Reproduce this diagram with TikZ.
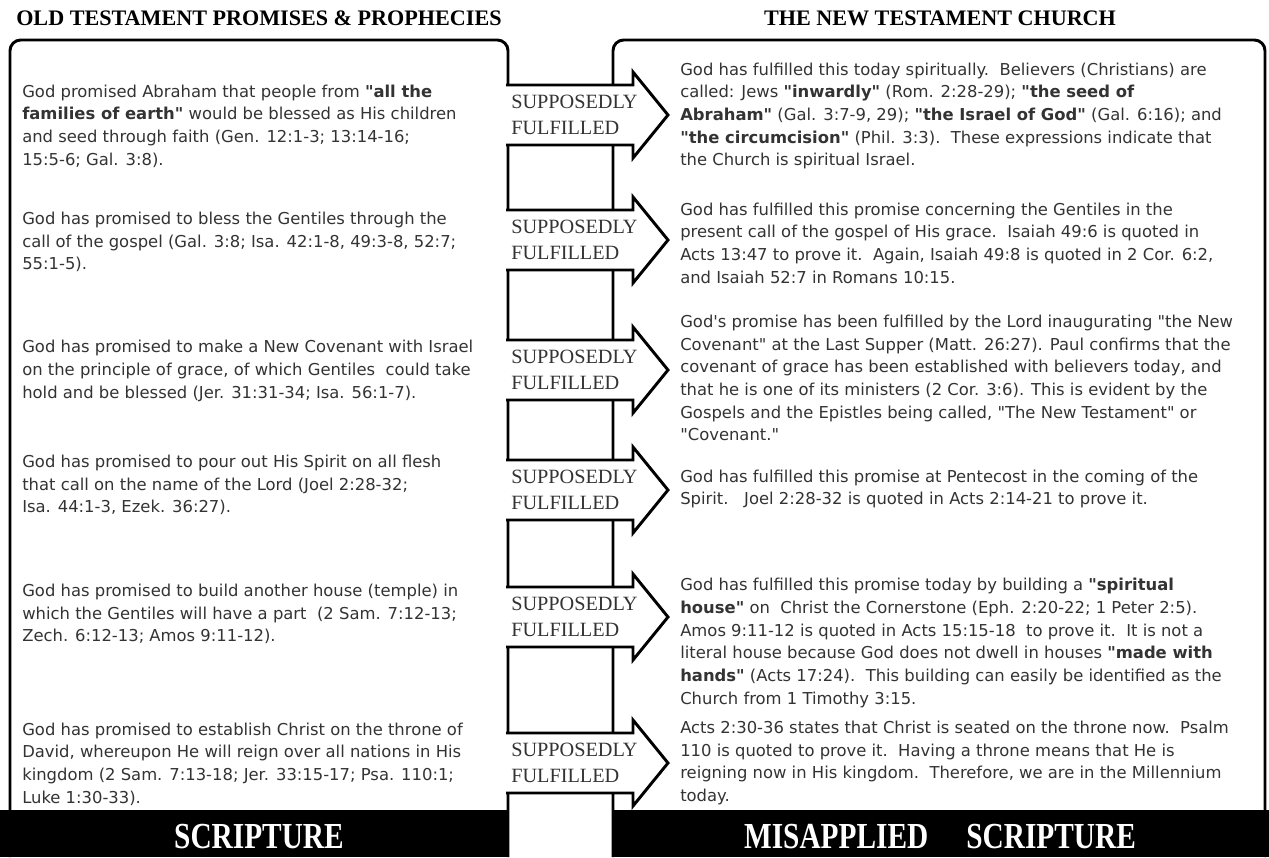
\documentclass[tikz,border=0pt]{standalone}
\usepackage{fontspec}
\setmainfont{Liberation Serif}
\newfontfamily\bodyfont{DejaVu Sans}
\usepackage{tikz}
\usetikzlibrary{calc,positioning}
\definecolor{inkgray}{gray}{0.2}
\tikzset{
  frame/.style={line width=2.2pt,rounded corners=8},
  shaft/.style={line width=2.2pt,fill=white,line join=miter},
  oldtext/.style={anchor=west,align=left,inner sep=0pt,text=inkgray,
    font=\bodyfont\fontsize{12.3}{17}\selectfont},
  newtext/.style={anchor=west,align=left,inner sep=0pt,text=inkgray,
    font=\bodyfont\fontsize{12.3}{17}\selectfont},
  fulfil/.style={anchor=west,align=left,inner sep=0pt,text=inkgray,
    font=\fontsize{15.2}{19.5}\selectfont},
  heading/.style={inner sep=0pt,font=\bfseries\fontsize{16.6}{18}\selectfont},
  barlabel/.style={inner sep=0pt,text=white,font=\bfseries\fontsize{22}{24}\selectfont}
}

\begin{document}
\begin{tikzpicture}[x=0.75pt,y=-0.75pt,line cap=butt]
  % --- Page ---
  \useasboundingbox (0,0) rectangle (1269,857);

  % --- Bottom bars ---
  \fill (0,810) rectangle (508,857);
  \fill (613,810) rectangle (1269,857);

  % --- Frames ---
  \draw[frame] (10,857) -- (10,40) -- (508,40) -- (508,857);
  \draw[frame] (1265,857) -- (1265,40) -- (613,40) -- (613,857);

  % --- Arrows ---
  \foreach \t/\n in {85/1,210/2,340/3,460/4,587/5,733/6}{
    \filldraw[shaft] (506,\t) -- (633,\t) -- (633,\t-13) -- (668,\t+30)
      -- (633,\t+73) -- (633,\t+60) -- (506,\t+60);
    \node[fulfil] (sf\n) at (511,\t+30) {SUPPOSEDLY\\FULFILLED};
  }

  % --- Headings ---
  \node[heading,anchor=west] (hdOld) at (16,18) {OLD TESTAMENT PROMISES \& PROPHECIES};
  \node[heading] (hdNew) at (940,18) {THE NEW TESTAMENT CHURCH};

  % --- Promises ---
  \node[oldtext] (ot1) at (22,126) {God promised Abraham that people from \textbf{"all the}\\
    \textbf{families of earth"} would be blessed as His children\\
    and seed through faith (Gen. 12:1-3; 13:14-16;\\
    15:5-6; Gal. 3:8).};
  \node[oldtext] (ot2) at (22,242) {God has promised to bless the Gentiles through the\\
    call of the gospel (Gal. 3:8; Isa. 42:1-8, 49:3-8, 52:7;\\
    55:1-5).};
  \node[oldtext] (ot3) at (22,371) {God has promised to make a New Covenant with Israel\\
    on the principle of grace, of which Gentiles\ \ could take\\
    hold and be blessed (Jer. 31:31-34; Isa. 56:1-7).};
  \node[oldtext] (ot4) at (22,485) {God has promised to pour out His Spirit on all flesh\\
    that call on the name of the Lord (Joel 2:28-32;\\
    Isa. 44:1-3, Ezek. 36:27).};
  \node[oldtext] (ot5) at (22,614) {God has promised to build another house (temple) in\\
    which the Gentiles will have a part\ \ (2 Sam. 7:12-13;\\
    Zech. 6:12-13; Amos 9:11-12).};
  \node[oldtext] (ot6) at (22,764) {God has promised to establish Christ on the throne of\\
    David, whereupon He will reign over all nations in His\\
    kingdom (2 Sam. 7:13-18; Jer. 33:15-17; Psa. 110:1;\\
    Luke 1:30-33).};

  % --- Fulfilments ---
  \node[newtext] (nt1) at (680,116) {God has fulfilled this today spiritually.\ \ Believers (Christians) are\\
    called: Jews \textbf{"inwardly"} (Rom. 2:28-29); \textbf{"the seed of}\\
    \textbf{Abraham"} (Gal. 3:7-9, 29); \textbf{"the Israel of God"} (Gal. 6:16); and\\
    \textbf{"the circumcision"} (Phil. 3:3).\ \ These expressions indicate that\\
    the Church is spiritual Israel.};
  \node[newtext] (nt2) at (680,243) {God has fulfilled this promise concerning the Gentiles in the\\
    present call of the gospel of His grace.\ \ Isaiah 49:6 is quoted in\\
    Acts 13:47 to prove it.\ \ Again, Isaiah 49:8 is quoted in 2 Cor. 6:2,\\
    and Isaiah 52:7 in Romans 10:15.};
  \node[newtext] (nt3) at (680,378) {God's promise has been fulfilled by the Lord inaugurating "the New\\
    Covenant" at the Last Supper (Matt. 26:27). Paul confirms that the\\
    covenant of grace has been established with believers today, and\\
    that he is one of its ministers (2 Cor. 3:6). This is evident by the\\
    Gospels and the Epistles being called, "The New Testament" or\\
    "Covenant."};
  \node[newtext] (nt4) at (680,489) {God has fulfilled this promise at Pentecost in the coming of the\\
    Spirit.\ \ \ Joel 2:28-32 is quoted in Acts 2:14-21 to prove it.};
  \node[newtext] (nt5) at (680,643) {God has fulfilled this promise today by building a \textbf{"spiritual}\\
    \textbf{house"} on\ \ Christ the Cornerstone (Eph. 2:20-22; 1 Peter 2:5).\\
    Amos 9:11-12 is quoted in Acts 15:15-18\ \ to prove it.\ \ It is not a\\
    literal house because God does not dwell in houses \textbf{"made with}\\
    \textbf{hands"} (Acts 17:24).\ \ This building can easily be identified as the\\
    Church from 1 Timothy 3:15.};
  \node[newtext] (nt6) at (680,763) {Acts 2:30-36 states that Christ is seated on the throne now.\ \ Psalm\\
    110 is quoted to prove it.\ \ Having a throne means that He is\\
    reigning now in His kingdom.\ \ Therefore, we are in the Millennium\\
    today.};

  % --- Bar labels ---
  \node[barlabel] (lbScr) at (259,837) {\scalebox{1}[1.25]{SCRIPTURE}};
  \node[barlabel] (lbMis) at (940,837) {\scalebox{1}[1.25]{MISAPPLIED\hspace{1.3em}SCRIPTURE}};
\end{tikzpicture}
\end{document}
